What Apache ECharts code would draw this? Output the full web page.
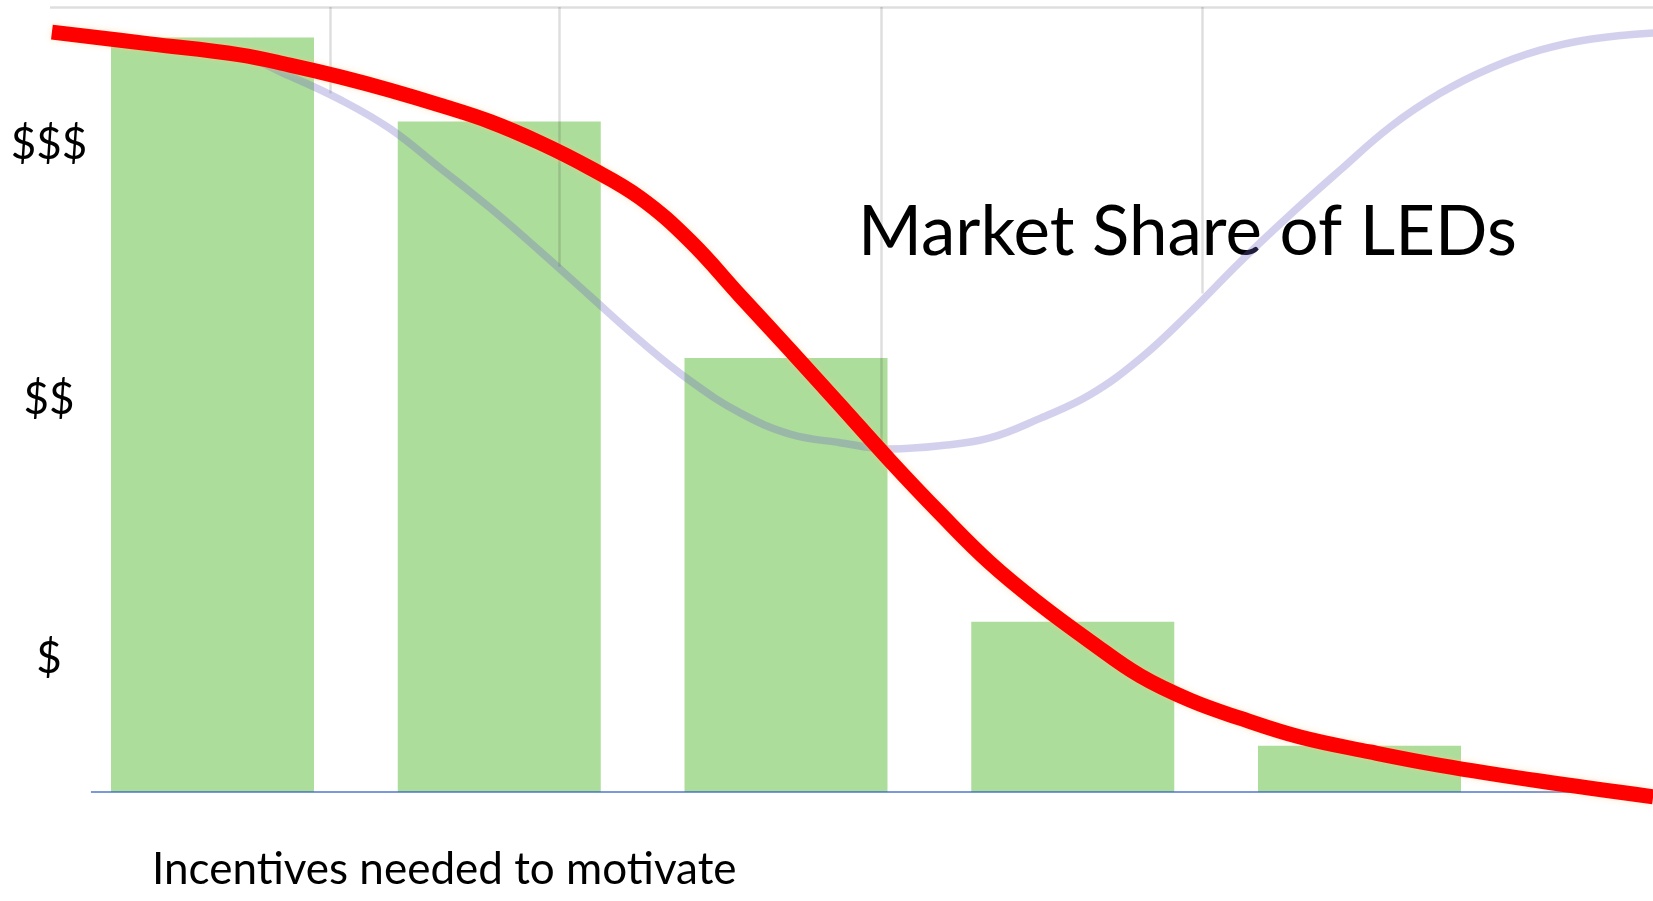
<!DOCTYPE html>
<html>
<head>
<meta charset="utf-8">
<title>Market Share of LEDs</title>
<script src="https://cdn.jsdelivr.net/npm/echarts@6/dist/echarts.min.js"></script>
<style>
  html, body { margin: 0; padding: 0; background: #ffffff; }
  #chart { width: 1653px; height: 901px; }
</style>
</head>
<body>
<div id="chart"></div>
<script>
// Bars: incentive level needed at each adoption stage
const barPositions = [1, 2, 3, 4, 5];
const incentiveLevels = [96.1, 85.4, 55.3, 21.7, 5.9];

// Price tier labels on the vertical axis and the levels they sit at
const priceTiers = ['$', '$$', '$$$'];
const tierLevels = [17, 50, 82.5];

// Red curve: incentives needed
const incentiveCurveX = [0.440, 0.782, 1.096, 1.270, 1.445, 1.619, 1.793, 1.968, 2.142, 2.316, 2.491, 2.665, 2.840, 3.014, 3.188, 3.363, 3.537, 3.711, 3.886, 4.060, 4.235, 4.409, 4.583, 4.793, 5.037, 5.281, 5.629, 6.024];
const incentiveCurveY = [96.8, 95.3, 93.9, 92.6, 91.1, 89.4, 87.5, 85.4, 82.7, 79.5, 75.7, 70.2, 63.2, 56.3, 49.3, 42.2, 35.5, 29.2, 23.9, 19.2, 14.8, 11.7, 9.4, 7.0, 5.1, 3.4, 1.4, -0.6];

// Lavender curve: market share of LEDs
const shareCurveX = [0.440, 0.782, 1.096, 1.270, 1.445, 1.619, 1.793, 1.968, 2.142, 2.316, 2.491, 2.665, 2.840, 3.014, 3.188, 3.363, 3.537, 3.711, 3.886, 4.060, 4.235, 4.409, 4.583, 4.757, 4.932, 5.106, 5.281, 5.455, 5.629, 5.804, 6.024];
const shareCurveY = [96.6, 95.5, 93.8, 91.2, 88.2, 84.5, 79.5, 74.4, 68.9, 63.2, 57.5, 52.4, 48.3, 45.6, 44.5, 43.7, 44.1, 45.1, 47.6, 50.6, 55.2, 61.1, 67.5, 73.5, 79.2, 84.7, 89.0, 92.2, 94.5, 95.9, 96.7];

// Faint vertical guides hanging from the top rule
const guideX = [1.410, 2.208, 3.331, 4.451];
const guideEnd = [89.0, 66.9, 43.2, 63.5];

const xMin = 0.4333, xMax = 6.0235, baselineStart = 0.576;

const pairs = (xs, ys) => xs.map((x, i) => [x, ys[i]]);

const guideStyle = { color: 'rgba(0,0,0,0.13)', width: 2.5 };
const guideLines = [[{ coord: [xMin, 100] }, { coord: [xMax, 100] }]].concat(
  guideX.map((x, i) => [{ coord: [x, 100] }, { coord: [x, guideEnd[i]] }])
).map(seg => [Object.assign({}, seg[0], { lineStyle: guideStyle }), seg[1]]);

const baseline = [
  { coord: [baselineStart, 0], lineStyle: { color: 'rgba(40,90,190,0.62)', width: 2 } },
  { coord: [xMax, 0] }
];

const chart = echarts.init(document.getElementById('chart'));
chart.setOption({
  animation: false,
  backgroundColor: '#ffffff',
  title: [
    {
      text: 'Market Share of LEDs',
      left: 853, top: 193,
      textStyle: { fontFamily: 'Lato', fontWeight: 'normal', fontSize: 69, color: '#000000' }
    },
    {
      text: 'Incentives needed to motivate',
      left: 147, top: 843,
      textStyle: { fontFamily: 'Lato', fontWeight: 'normal', fontSize: 44, color: '#000000' }
    }
  ],
  grid: { left: 50, right: 0, top: 7, bottom: 109, outerBoundsMode: 'none' },
  xAxis: {
    type: 'value', min: xMin, max: xMax, show: false
  },
  yAxis: {
    type: 'value', min: 0, max: 100,
    axisLine: { show: false },
    axisTick: { show: false },
    splitLine: { show: false },
    axisLabel: {
      customValues: tierLevels,
      formatter: v => priceTiers[tierLevels.indexOf(v)] || '',
      align: 'center',
      margin: 1,
      fontFamily: 'Lato',
      fontSize: 44,
      color: '#000000'
    }
  },
  series: [
    {
      type: 'bar',
      data: pairs(barPositions, incentiveLevels),
      barWidth: 203,
      itemStyle: { color: '#addd9b' },
      z: 2,
      markLine: {
        silent: true,
        symbol: 'none',
        label: { show: false },
        lineStyle: { type: 'solid' },
        data: guideLines.concat([baseline])
      }
    },
    {
      type: 'line',
      data: pairs(shareCurveX, shareCurveY),
      smooth: 0.4,
      showSymbol: false,
      z: 8,
      lineStyle: { color: 'rgba(110,98,200,0.30)', width: 7.5 }
    },
    {
      type: 'line',
      data: pairs(incentiveCurveX, incentiveCurveY),
      smooth: 0.4,
      showSymbol: false,
      clip: false,
      z: 10,
      lineStyle: {
        color: '#ff0000', width: 15, cap: 'butt',
        shadowColor: 'rgba(255,205,130,0.45)', shadowBlur: 6
      }
    }
  ]
});
</script>
</body>
</html>
